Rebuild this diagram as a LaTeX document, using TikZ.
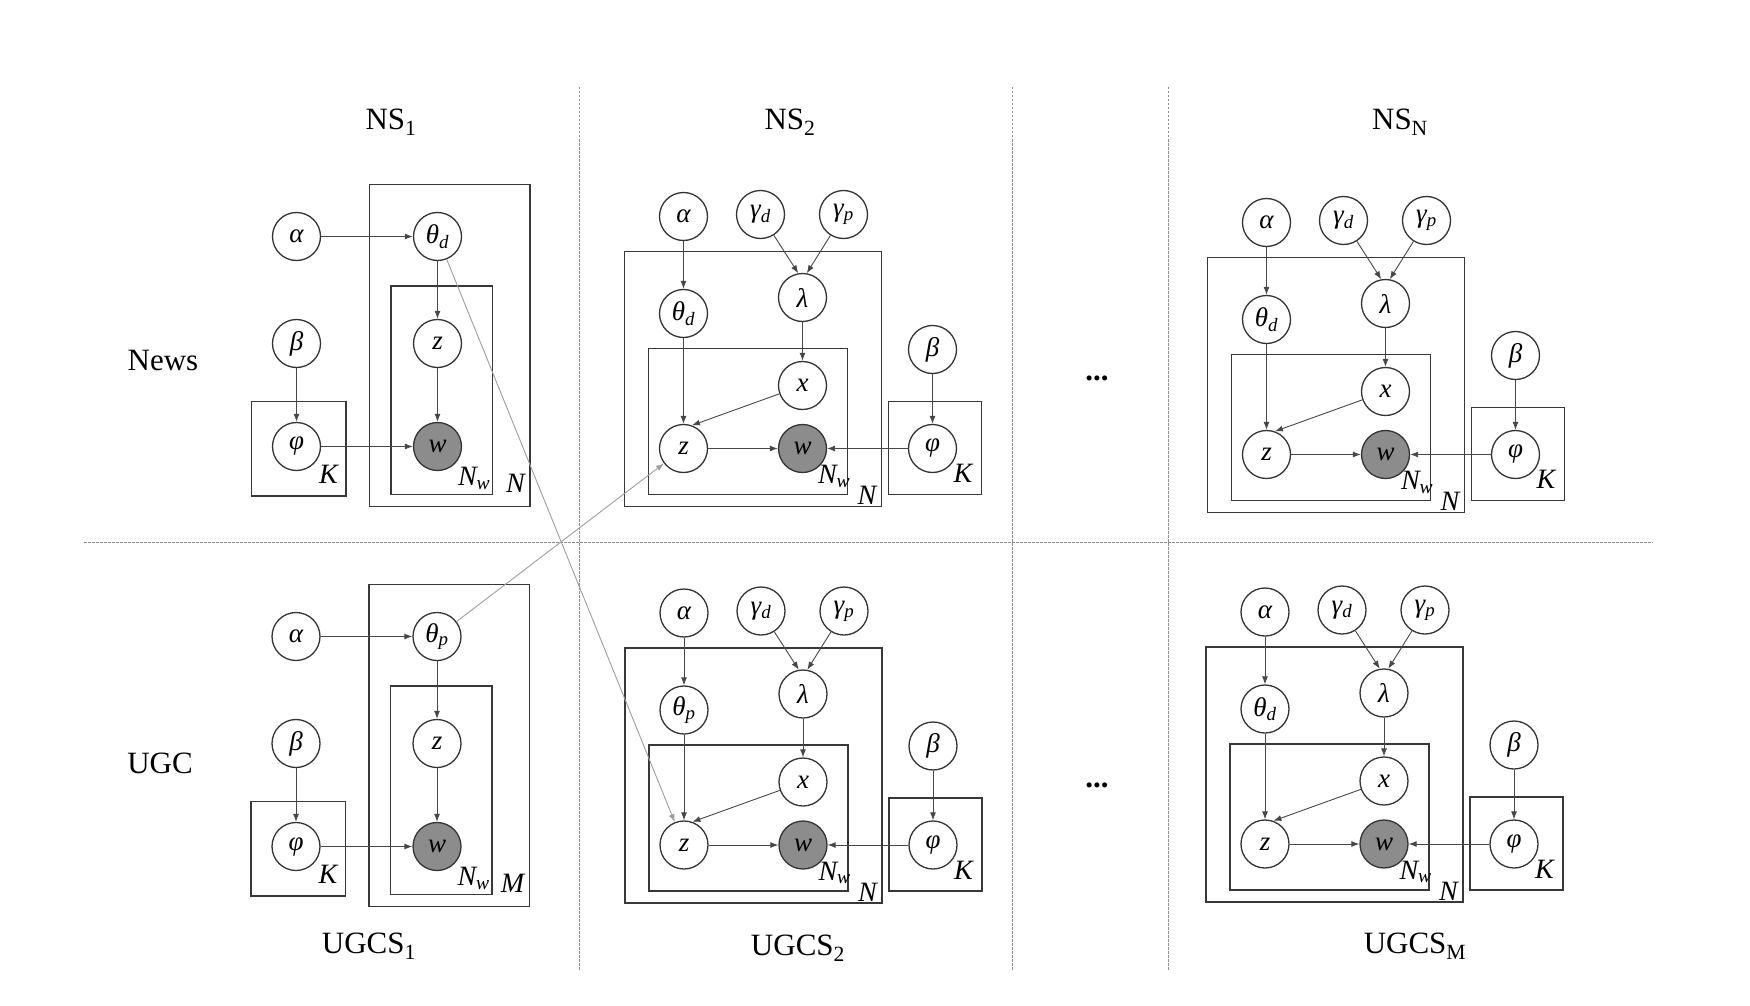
\documentclass[tikz,border=0pt]{standalone}
\usepackage{fontspec}
\setmainfont{Liberation Serif}
\usetikzlibrary{arrows.meta}
\newcommand{\nodefont}{\fontsize{27}{27}\selectfont\itshape}
\newcommand{\labfont}{\fontsize{31}{31}\selectfont}
\newcommand{\platefont}{\fontsize{28}{28}\selectfont\itshape}
\newcommand{\simplepanel}[5]{%
\begin{scope}[shift={(#2,#3)}]
 \draw[plate] (-45,165) rectangle (49.5,259.5) coordinate (#1Kse);
 \draw[plate] (73,-52) rectangle (233.5,270) coordinate (#1Nse);
 \draw[plate] (94.5,49.5) rectangle (196,258) coordinate (#1Wse);
 \node[var] (#1a) at (0,0) {α};
 \node[var] (#1t) at (141,0) {θ\textsubscript{#4}};
 \node[var] (#1b) at (0,107) {β};
 \node[var] (#1p) at (0,210) {φ};
 \node[var] (#1z) at (141,107) {z};
 \node[obs] (#1w) at (141,210) {w};
 \node[platelab,xshift=-8pt,yshift=13pt] (#1Kl) at (#1Kse) {K};
 \node[platelab,xshift=-2pt,yshift=9pt] (#1Wl) at (#1Wse) {N\textsubscript{w}};
 \node[platelab,xshift=-5pt,yshift=14pt] (#1Nl) at (#1Nse) {#5};
 \draw[arr] (#1a) -- (#1t);
 \draw[arr] (#1b) -- (#1p);
 \draw[arr] (#1t) -- (#1z);
 \draw[arr] (#1z) -- (#1w);
 \draw[arr] (#1p) -- (#1w);
\end{scope}}
\newcommand{\complexpanel}[4]{%
\begin{scope}[shift={(#2,#3)}]
 \draw[plate] (-59,35) rectangle (198,290) coordinate (#1Nse);
 \draw[plate] (-35,132) rectangle (164,278) coordinate (#1Wse);
 \draw[plate] (205,185) rectangle (298,278) coordinate (#1Kse);
 \node[var] (#1a) at (0,0) {α};
 \node[var] (#1gd) at (77,-2) {γ\textsubscript{d}};
 \node[var] (#1gp) at (160,-2) {γ\textsubscript{p}};
 \node[var] (#1l) at (119,81) {λ};
 \node[var] (#1t) at (0,97) {θ\textsubscript{#4}};
 \node[var] (#1x) at (119,169) {x};
 \node[var] (#1z) at (0,232) {z};
 \node[obs] (#1w) at (119,232) {w};
 \node[var] (#1b) at (249,133) {β};
 \node[var] (#1p) at (249,232) {φ};
 \node[platelab,xshift=3pt,yshift=11pt] (#1Wl) at (#1Wse) {N\textsubscript{w}};
 \node[platelab,xshift=-5pt,yshift=2pt] (#1Nl) at (#1Nse) {N};
 \node[platelab,xshift=-9pt,yshift=12pt] (#1Kl) at (#1Kse) {K};
 \draw[arr] (#1a) -- (#1t);
 \draw[arr] (#1gd) -- (#1l.100);
 \draw[arr] (#1gp) -- (#1l.80);
 \draw[arr] (#1l) -- (#1x);
 \draw[arr] (#1t) -- (#1z);
 \draw[arr] (#1x) -- (#1z.70);
 \draw[arr] (#1z) -- (#1w);
 \draw[arr] (#1p) -- (#1w);
 \draw[arr] (#1b) -- (#1p);
\end{scope}}
\begin{document}
\begin{tikzpicture}[x=1pt,y=-1pt,
  var/.style={circle,draw=black!80,line width=1.3pt,minimum size=48pt,inner sep=0pt,font=\nodefont,fill=white},
  obs/.style={var,fill={rgb,255:red,140;green,140;blue,140}},
  plate/.style={draw=black!78,line width=1.8pt},
  platelab/.style={font=\platefont,anchor=base east,inner sep=0pt},
  arr/.style={-{Latex[length=8pt,width=6pt]},draw=black!72,line width=0.9pt},
  cross/.style={arr,draw=black!38},
  divider/.style={draw=black!45,line width=1pt,dash pattern=on 2.5pt off 1.5pt},
  lab/.style={font=\labfont,inner sep=0pt}]
\useasboundingbox[fill=white] (0,0) rectangle (1750,1006);
% dividers
\coordinate (h1) at (84,542);
\coordinate (h2) at (1653,542);
\coordinate (v1t) at (579,87);
\coordinate (v1b) at (579,970);
\coordinate (v2t) at (1012,87);
\coordinate (v2b) at (1012,970);
\coordinate (v3t) at (1168,87);
\coordinate (v3b) at (1168,970);
\draw[divider] (h1) -- (h2);
\draw[divider] (v1t) -- (v1b);
\draw[divider] (v2t) -- (v2b);
\draw[divider] (v3t) -- (v3b);
% labels
\node[lab] (ns1) at (391,122) {NS\textsubscript{1}};
\node[lab] (ns2) at (790,122) {NS\textsubscript{2}};
\node[lab] (nsn) at (1400,122) {NS\textsubscript{N}};
\node[lab] (news) at (163,360) {News};
\node[lab] (ugc) at (160,763) {UGC};
\node[lab] (u1) at (369,946) {UGCS\textsubscript{1}};
\node[lab] (u2) at (798,948) {UGCS\textsubscript{2}};
\node[lab] (um) at (1415,946) {UGCS\textsubscript{M}};
\node[lab] (dots1) at (1097,378) {\textbf{...}};
\node[lab] (dots2) at (1097,785) {\textbf{...}};
% panels
\simplepanel{A}{296.5}{236.5}{d}{N}
\simplepanel{B}{296}{636.5}{p}{M}
\complexpanel{C}{683.5}{216.5}{d}
\complexpanel{D}{684}{613}{p}
\complexpanel{E}{1266.5}{222.5}{d}
\complexpanel{F}{1265}{612}{d}
% cross links
\draw[cross] (At) -- (Dz);
\draw[cross] (Bt) -- (Cz);
\end{tikzpicture}
\end{document}
